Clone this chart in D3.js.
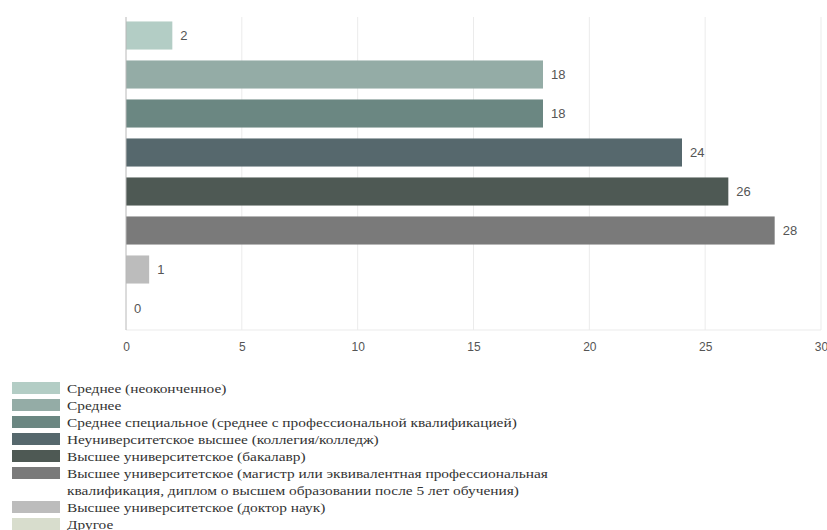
<!DOCTYPE html>
<html><head><meta charset="utf-8">
<script src="https://cdn.jsdelivr.net/npm/d3@7/dist/d3.min.js"></script>
<style>body{margin:0;background:#fff}svg{display:block}
.lgt{font-family:"Liberation Serif","DejaVu Serif","Times New Roman",Times,serif;font-size:13px;fill:#333}
</style>
</head><body>
<svg id="c" width="827" height="530"></svg>
<script>
const categories = [
  "Среднее (неоконченное)",
  "Среднее",
  "Среднее специальное (среднее с профессиональной квалификацией)",
  "Неуниверситетское высшее (коллегия/колледж)",
  "Высшее университетское (бакалавр)",
  "Высшее университетское (магистр или эквивалентная профессиональная квалификация, диплом о высшем образовании после 5 лет обучения)",
  "Высшее университетское (доктор наук)",
  "Другое"
];
const legendLines = [
  ["Среднее (неоконченное)"],
  ["Среднее"],
  ["Среднее специальное (среднее с профессиональной квалификацией)"],
  ["Неуниверситетское высшее (коллегия/колледж)"],
  ["Высшее университетское (бакалавр)"],
  ["Высшее университетское (магистр или эквивалентная профессиональная", "квалификация, диплом о высшем образовании после 5 лет обучения)"],
  ["Высшее университетское (доктор наук)"],
  ["Другое"]
];
const values = [2, 18, 18, 24, 26, 28, 1, 0];
const colors = ["#b3cdc5", "#94aca6", "#6b8782", "#56686d", "#4e5954", "#7a7a7a", "#bcbcbc", "#d8ddcd"];
const xTicks = [0, 5, 10, 15, 20, 25, 30];

const svg = d3.select("#c");
const x = d3.scaleLinear().domain([0, 30]).range([126, 821]);
const y = d3.scaleBand().domain(categories).range([16, 328]).paddingInner(0.28).paddingOuter(0.14);

// grid
svg.append("g").selectAll("line").data(xTicks.slice(1)).join("line")
  .attr("x1", d => x(d)).attr("x2", d => x(d))
  .attr("y1", 17).attr("y2", 330)
  .attr("stroke", "#ebebeb").attr("stroke-width", 1);
svg.append("line").attr("x1", 126).attr("x2", 821).attr("y1", 330).attr("y2", 330)
  .attr("stroke", "#ebebeb");

// bars
svg.append("g").selectAll("rect").data(values).join("rect")
  .attr("x", x(0)).attr("y", (d, i) => y(categories[i]))
  .attr("width", d => x(d) - x(0)).attr("height", y.bandwidth())
  .attr("fill", (d, i) => colors[i]);

// baseline
svg.append("line").attr("x1", x(0)).attr("x2", x(0)).attr("y1", 17).attr("y2", 330)
  .attr("stroke", "#b8b8b8").attr("stroke-width", 1);

// value labels
svg.append("g").selectAll("text").data(values).join("text")
  .attr("x", d => x(d) + 8).attr("y", (d, i) => y(categories[i]) + y.bandwidth() / 2)
  .attr("dy", "0.35em")
  .attr("font-family", "'Liberation Sans', Arial, sans-serif").attr("font-size", 13)
  .attr("fill", "#555").text(d => d);

// x axis
const ax = svg.append("g").attr("transform", "translate(0,330)")
  .call(d3.axisBottom(x).tickValues(xTicks).tickSize(0).tickPadding(12));
ax.select(".domain").remove();
ax.selectAll("text").attr("font-family", "'Liberation Sans', Arial, sans-serif").attr("font-size", 12).attr("fill", "#555");

// legend
let ly = 382;
const lg = svg.append("g");
const lgText = lg.append("g");
legendLines.forEach((lines, i) => {
  lg.append("rect").attr("x", 12).attr("y", ly).attr("width", 48).attr("height", 12).attr("fill", colors[i]);
  lines.forEach((t, j) => {
    lgText.append("text").attr("class", "lgt").attr("x", 0).attr("y", ly + 6 + j * 17).attr("dy", "0.35em").text(t);
  });
  ly += 17 * lines.length;
});
// stretch legend text horizontally to match the reference's wide lettering
const longest = d3.max(lgText.selectAll("text").nodes(), n => n.getComputedTextLength());
const sx = 481 / longest;
lgText.attr("transform", `translate(67,0) scale(${sx},1)`);
</script>
</body></html>
